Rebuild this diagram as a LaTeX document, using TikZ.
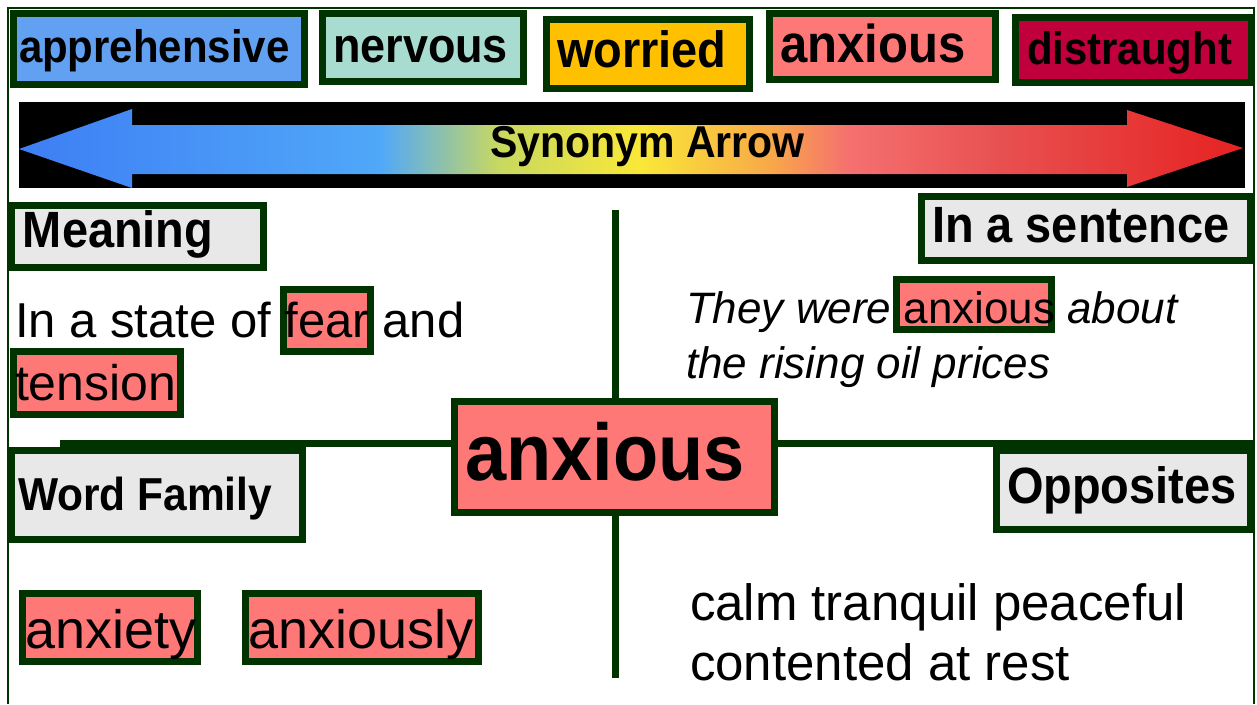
\documentclass[tikz,border=0pt]{standalone}
\usepackage{fontspec}
\setmainfont{Liberation Sans}[BoldFeatures={FakeStretch=0.92}]
\definecolor{dkgreen}{RGB}{0,51,0}
\definecolor{pinkfill}{RGB}{255,120,120}
\definecolor{greyfill}{RGB}{232,232,232}
\definecolor{bluefill}{RGB}{98,161,242}
\definecolor{tealfill}{RGB}{168,220,208}
\definecolor{orangefill}{RGB}{255,192,0}
\definecolor{crimsonfill}{RGB}{192,0,60}
\definecolor{sb1}{RGB}{62,126,245}
\definecolor{sb2}{RGB}{80,168,248}
\definecolor{sb3}{RGB}{120,184,200}
\definecolor{sb4}{RGB}{200,216,96}
\definecolor{sb5}{RGB}{250,232,56}
\definecolor{sb6}{RGB}{248,168,72}
\definecolor{sb7}{RGB}{245,112,112}
\definecolor{sb8}{RGB}{232,80,80}
\definecolor{sb9}{RGB}{230,34,34}
\pgfdeclarehorizontalshading{synshade}{100bp}{color(0bp)=(sb1); color(25bp)=(sb1); color(39.75bp)=(sb2); color(41.4bp)=(sb3); color(44.6bp)=(sb4); color(50.4bp)=(sb5); color(55.7bp)=(sb6); color(58.9bp)=(sb7); color(65.1bp)=(sb8); color(75bp)=(sb9); color(100bp)=(sb9)}
\newcommand{\myfs}[1]{\fontsize{#1}{#1}\selectfont}
\begin{document}
\begin{tikzpicture}[x=1pt,y=-1pt,
  frameln/.style={draw=dkgreen, line width=2.5pt},
  quadln/.style={draw=dkgreen, line width=7pt},
  hbox/.style={draw=dkgreen, line width=7pt, inner sep=0pt, outer sep=0pt},
  txt/.style={anchor=base west, inner sep=0pt, outer sep=0pt, text=black},
  hd/.style={txt, font=\bfseries\myfs{#1}},
  bd/.style={txt, font=\myfs{#1}}
]
\useasboundingbox (0,0) rectangle (1257,704);
\fill[white] (0,0) rectangle (1257,704);

% outer frame
\coordinate (fbl) at (8,704);
\coordinate (ftl) at (8,8);
\coordinate (ftr) at (1254,8);
\coordinate (fbr) at (1254,704);
\draw[frameln] (fbl) -- (ftl) -- (ftr) -- (fbr);

% quadrant lines
\coordinate (hl) at (60,443);
\coordinate (hr) at (1254,443);
\coordinate (vt) at (615,210);
\coordinate (vb) at (615,678);
\draw[quadln] (hl) -- (hr);
\draw[quadln] (vt) -- (vb);

% synonym arrow
\node[fill=black, inner sep=0pt, minimum width=1226pt, minimum height=86pt] (arrbg) at (632,145) {};
\shade[shading=synshade] (19,149) -- (132,109) -- (132,125) -- (1127,125) -- (1127,110) -- (1243,148) -- (1127,187) -- (1127,174) -- (132,174) -- (132,188) -- cycle;
\node[hd=44.6] (tarr) at (490,157) {Synonym Arrow};

% top synonym boxes
\node[hbox, fill=bluefill, minimum width=291pt, minimum height=71pt] (bappr) at (159,49) {};
\node[hbox, fill=tealfill, minimum width=201pt, minimum height=68pt] (bnerv) at (423,47.5) {};
\node[hbox, fill=orangefill, minimum width=203pt, minimum height=69pt] (bworr) at (648,54) {};
\node[hbox, fill=pinkfill, minimum width=226pt, minimum height=66pt] (banx) at (882.5,46.5) {};
\node[hbox, fill=crimsonfill, minimum width=236pt, minimum height=65pt] (bdist) at (1133.5,50) {};
\node[hd=45.6] (tappr) at (19,62) {apprehensive};
\node[hd=48.9] (tnerv) at (333,62) {nervous};
\node[hd=51] (tworr) at (557,67) {worried};
\node[hd=53.3] (tanx) at (780,62) {anxious};
\node[hd=45.6] (tdist) at (1027,64) {distraught};

% section heading boxes
\node[hbox, fill=greyfill, minimum width=252pt, minimum height=62pt] (bmean) at (137.5,236.5) {};
\node[hbox, fill=greyfill, minimum width=329pt, minimum height=64pt] (bsent) at (1086,228.5) {};
\node[hbox, fill=greyfill, minimum width=291pt, minimum height=89pt] (bfam) at (157,495) {};
\node[hbox, fill=greyfill, minimum width=254pt, minimum height=79pt] (bopp) at (1123.5,490) {};
\node[hd=51] (tmean) at (23,247) {Meaning};
\node[hd=51] (tsent) at (932,242) {In a sentence};
\node[hd=46.2] (tfam) at (18,510) {Word Family};
\node[hd=51] (topp) at (1007,503) {Opposites};

% centre word
\node[hbox, fill=pinkfill, minimum width=320pt, minimum height=111pt] (bcen) at (614.5,457) {};
\node[hd=80.4] (tcen) at (465,480) {anxious};

% meaning
\node[hbox, fill=pinkfill, minimum width=87pt, minimum height=62pt] (bfear) at (327,320.5) {};
\node[hbox, fill=pinkfill, minimum width=167pt, minimum height=63pt] (bten) at (97,383) {};
\node[bd=49] (tmean1) at (15,337) {In a state of fear and};
\node[bd=50] (tmean2) at (15,400) {tension};

% sentence
\node[hbox, fill=pinkfill, minimum width=155pt, minimum height=50pt] (bsanx) at (974,304.5) {};
\node[bd=44] (tsent1) at (686,323) {\itshape They were \upshape anxious \itshape about};
\node[bd=44] (tsent2) at (686,378) {\itshape the rising oil prices};

% word family
\node[hbox, fill=pinkfill, minimum width=175pt, minimum height=68pt] (bany) at (110,627.5) {};
\node[hbox, fill=pinkfill, minimum width=233pt, minimum height=68pt] (banly) at (362,627.5) {};
\node[bd=54] (tany) at (25,648) {anxiety};
\node[bd=54] (tanly) at (248,648) {anxiously};

% opposites
\node[bd=51] (topp1) at (690,620) {calm tranquil peaceful};
\node[bd=51] (topp2) at (690,680) {contented at rest};
\end{tikzpicture}
\end{document}
